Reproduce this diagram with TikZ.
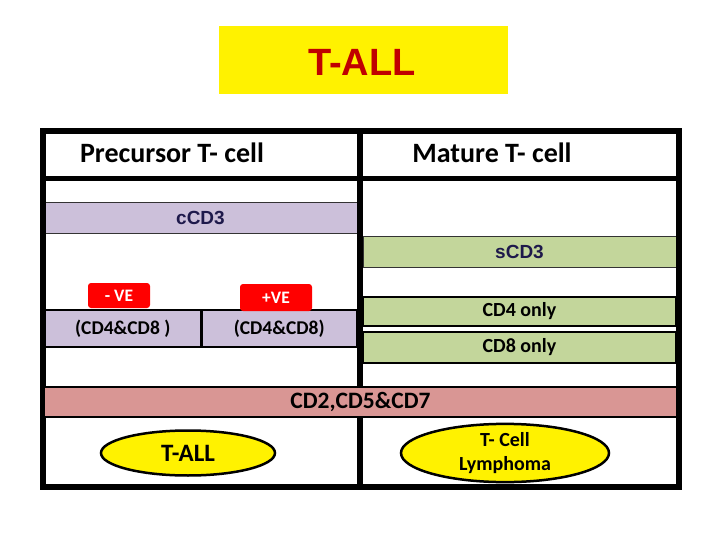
\documentclass[tikz,border=0pt]{standalone}
\usepackage{fontspec}
\setmainfont{Carlito}
\newfontfamily\arialf{Liberation Sans}
\usetikzlibrary{shapes.geometric}
\definecolor{lav}{RGB}{204,192,218}
\definecolor{grn}{RGB}{195,214,155}
\definecolor{pnk}{RGB}{217,150,148}
\definecolor{ttlred}{RGB}{192,0,0}
\definecolor{navy}{RGB}{30,25,75}
\tikzset{
  band/.style={rectangle, inner sep=0pt, outer sep=0pt, anchor=north west},
  hdr/.style={font=\fontsize{28}{32}\selectfont\bfseries},
  cdtext/.style={font=\arialf\fontsize{19}{22}\selectfont\bfseries, text=navy},
  mid/.style={font=\fontsize{19.5}{23}\selectfont\bfseries},
  redbox/.style={rectangle, rounded corners=3pt, fill=red, text=white, inner sep=0pt, font=\fontsize{17.5}{20}\selectfont\bfseries},
  oval/.style={ellipse, draw=black, line width=2.5pt, fill=yellow, inner sep=0pt, font=\fontsize{25}{27}\selectfont\bfseries, align=center},
  frame/.style={line width=5.5pt, draw=black}
}
\begin{document}
\begin{tikzpicture}[x=1pt,y=-1pt]
\useasboundingbox (0,0) rectangle (720,540);
% title
\node[band, fill=yellow, minimum width=289pt, minimum height=68pt] (title) at (219,26) {};
\node[font=\arialf\fontsize{38}{42}\selectfont\bfseries, text=ttlred] (titletext) at (362,62) {T-ALL};
% bands
\node[band, fill=lav, draw=black!80, line width=0.8pt, minimum width=313pt, minimum height=31pt] (ccd3) at (44,202) {};
\node[cdtext] at (ccd3.center) {cCD3};
\node[band, fill=grn, draw=black!80, line width=0.8pt, minimum width=313pt, minimum height=31pt] (scd3) at (363,236) {};
\node[cdtext] at (scd3.center) {sCD3};
\node[band, fill=lav, draw=black, line width=2.5pt, minimum width=157.5pt, minimum height=37pt] (neg) at (44,310) {};
\node[mid] at (neg.center) {(CD4\&CD8 )};
\node[band, fill=lav, draw=black, line width=2.5pt, minimum width=155.5pt, minimum height=37pt] (pos) at (201.5,310) {};
\node[mid] at (pos.center) {(CD4\&CD8)};
\node[band, fill=grn, draw=black, line width=2pt, minimum width=313pt, minimum height=29pt] (cd4) at (363,297) {};
\node[mid, font=\fontsize{20}{23}\selectfont\bfseries] at (cd4.center) {CD4 only};
\node[band, fill=grn, draw=black, line width=2pt, minimum width=313pt, minimum height=31pt] (cd8) at (363,332) {};
\node[mid, font=\fontsize{20}{23}\selectfont\bfseries] at (cd8.center) {CD8 only};
% red labels
\node[redbox, minimum width=62pt, minimum height=25pt] (negl) at (119,295.5) {- VE};
\node[redbox, minimum width=72pt, minimum height=27pt] (posl) at (276,297.5) {+VE};
% frame
\draw[frame] (43,131) rectangle (679,487);
\draw[line width=5pt] (43,179) -- (679,179);
\draw[line width=6pt] (360,131) -- (360,388);
\draw[line width=6pt] (360,416) -- (360,487);
% pink band
\node[band, fill=pnk, draw=black, line width=2.5pt, minimum width=633pt, minimum height=30pt] (pink) at (44,387) {};
\node[font=\fontsize{23.5}{27}\selectfont\bfseries] at (pink.center) {CD2,CD5\&CD7};
% headers
\node[hdr] (pre) at (172,153) {Precursor T- cell};
\node[hdr] (mat) at (492,153) {Mature T- cell};
% ovals
\node[oval, minimum width=174pt, minimum height=45pt] (tall) at (188,453) {T-ALL};
\node[oval, minimum width=208pt, minimum height=50pt, font=\fontsize{20}{24}\selectfont\bfseries] (lym) at (505,453) {T- Cell\\Lymphoma};
\end{tikzpicture}
\end{document}
